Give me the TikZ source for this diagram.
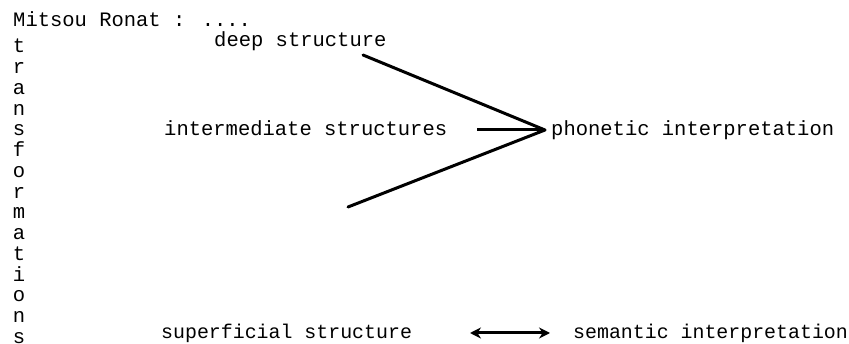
\documentclass[tikz,border=0pt]{standalone}
\usepackage{fontspec}
\setmainfont{Liberation Mono}
\usetikzlibrary{arrows.meta}
\begin{document}
\begin{tikzpicture}[x=1pt,y=-1pt,
  lbl/.style={anchor=base west,inner sep=0pt,font=\fontsize{20.5}{21}\selectfont},
  lowlbl/.style={anchor=base west,inner sep=0pt,font=\fontsize{19.9}{21}\selectfont},
  letter/.style={anchor=base,inner sep=0pt,font=\fontsize{20.5}{21}\selectfont},
  link/.style={line width=3pt,line cap=round},
  tip/.style={line width=3pt,-{Stealth[length=10pt,width=9pt]}},
  both/.style={line width=3pt,{Stealth[length=11pt,width=11pt]}-{Stealth[length=11pt,width=11pt]}}]
\useasboundingbox (0,0) rectangle (849,344);

% heading and the vertical label
\node[lbl] (title) at (13,27) {Mitsou Ronat : ....};
\foreach \c [count=\i] in {t,r,a,n,s,f,o,r,m,a,t,i,o,n,s}
  \node[letter] (v\i) at (19,53+\i*20.75-20.75) {\c};

% upper group: three structures converging on the phonetic component
\node[lbl] (deep) at (214,47) {deep structure};
\node[lbl] (inter) at (164,136) {intermediate structures};
\node[lbl] (phon) at (551,136) {phonetic interpretation};
\coordinate (conv) at (545,130);
\coordinate (deepend) at (363,55);
\coordinate (lowend) at (348,207);
\coordinate (interend) at (477,130);
\draw[link] (deepend) -- (conv);
\draw[link] (lowend) -- (conv);
\draw[tip] (interend) -- (conv);

% lower group
\node[lowlbl] (sup) at (161,339) {superficial structure};
\node[lowlbl] (sem) at (573,339) {semantic interpretation};
\coordinate (la) at (470,333);
\coordinate (lb) at (550,333);
\draw[both] (la) -- (lb);
\end{tikzpicture}
\end{document}
